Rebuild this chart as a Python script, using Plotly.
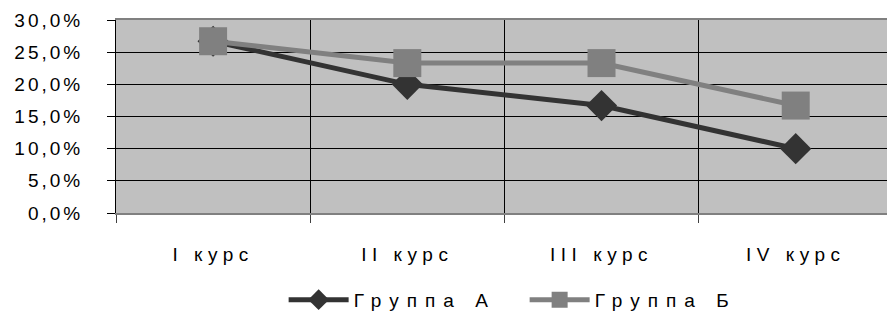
import plotly.graph_objects as go

categories = ["I курс", "II курс", "III курс", "IV курс"]
group_a = [0.267, 0.200, 0.167, 0.100]
group_b = [0.267, 0.233, 0.233, 0.167]
series_names = ["Группа А", "Группа Б"]

xpos = list(range(len(categories)))
bounds = [i - 0.5 for i in range(len(categories) + 1)]
FONT = "Liberation Sans, Arial, sans-serif"

fig = go.Figure()
fig.add_trace(go.Scatter(
    x=xpos, y=group_a, name=series_names[0], mode="lines+markers",
    line=dict(color="#333333", width=5),
    marker=dict(symbol="diamond", size=24, color="#333333"),
))
fig.add_trace(go.Scatter(
    x=xpos, y=group_b, name=series_names[1], mode="lines+markers",
    line=dict(color="#808080", width=5),
    marker=dict(symbol="square", size=28, color="#808080"),
))

fig.update_layout(
    width=887, height=331,
    margin=dict(l=116, r=0, t=20, b=118),
    paper_bgcolor="white", plot_bgcolor="#c0c0c0",
    separators=", ",
    font=dict(family=FONT, size=19, color="black"),
    showlegend=True,
    legend=dict(orientation="h", x=0.53, xanchor="center", y=-0.45, yanchor="middle",
                font=dict(size=19), entrywidth=166, itemwidth=60,
                bgcolor="rgba(0,0,0,0)"),
    xaxis=dict(
        range=[-0.5, 3.47], tickmode="array", tickvals=xpos, ticktext=categories,
        ticks="", showgrid=False, zeroline=False,
        showline=True, linecolor="#808080", linewidth=2, mirror=True,
        ticklabelstandoff=23, tickfont=dict(size=19),
        minor=dict(tickmode="array", tickvals=bounds, ticks="outside", ticklen=8,
                   tickcolor="#404040", showgrid=True, gridcolor="black", gridwidth=1),
    ),
    yaxis=dict(
        range=[0, 0.30], tickmode="linear", tick0=0, dtick=0.05, tickformat=".1%",
        ticks="outside", ticklen=8, tickcolor="black",
        showgrid=True, gridcolor="black", gridwidth=1, zeroline=False,
        showline=True, linecolor="black", linewidth=1,
        ticklabelstandoff=20, tickfont=dict(size=19),
    ),
)

post = (
    "document.body.style.margin='0';"
    "var gd=document.getElementById('{plot_id}');"
    "gd.querySelectorAll('.xtick text').forEach(function(t){t.style.letterSpacing='5.5px';});"
    "gd.querySelectorAll('.ytick text').forEach(function(t){t.style.letterSpacing='3px';});"
    "gd.querySelectorAll('text.legendtext').forEach(function(t){t.style.letterSpacing='8px';});"
)
fig.write_html("out.html", post_script=post, config={"displayModeBar": False})
